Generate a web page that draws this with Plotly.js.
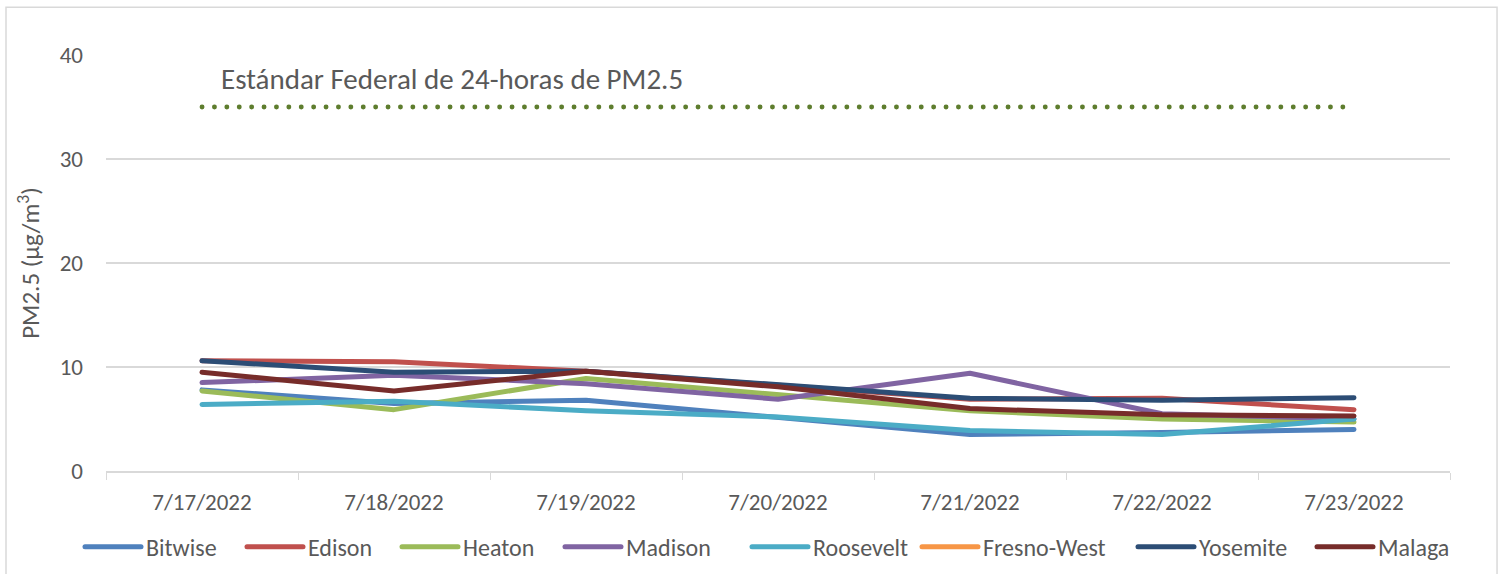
<!DOCTYPE html>
<html>
<head>
<meta charset="utf-8">
<script src="https://cdn.plot.ly/plotly-3.0.1.min.js"></script>
<style>
html,body{margin:0;padding:0;background:#fff;}
#chart{width:1509px;height:574px;}
#chart path.js-line{stroke-linecap:round;stroke-linejoin:round;}
</style>
</head>
<body>
<div id="chart"></div>
<script>
const dates = ["7/17/2022","7/18/2022","7/19/2022","7/20/2022","7/21/2022","7/22/2022","7/23/2022"];
const bitwise   = [7.8, 6.5, 6.8, 5.2, 3.5, 3.7, 4.0];
const edison    = [10.6, 10.5, 9.6, 8.2, 6.9, 7.0, 5.9];
const heaton    = [7.7, 5.9, 8.9, 7.3, 5.8, 5.0, 4.7];
const madison   = [8.5, 9.2, 8.4, 6.9, 9.4, 5.5, 5.0];
const roosevelt = [6.4, 6.7, 5.8, 5.2, 3.9, 3.5, 5.0];
const fresnoWest = [null, null, null, null, null, null, null];
const yosemite  = [10.6, 9.5, 9.6, 8.3, 7.0, 6.8, 7.05];
const malaga    = [9.5, 7.7, 9.6, 8.1, 6.0, 5.4, 5.3];
const standard  = [35, 35, 35, 35, 35, 35, 35];
const standardLabel = "Estándar Federal de 24-horas de PM2.5";

const seriesNames = ["Bitwise","Edison","Heaton","Madison","Roosevelt","Fresno-West","Yosemite","Malaga"];
const seriesData = [bitwise, edison, heaton, madison, roosevelt, fresnoWest, yosemite, malaga];
const colors = ["#4F81BD","#C0504D","#9BBB59","#8064A2","#4BACC6","#F79646","#2C4D75","#772C2A"];

// layout: left pixel of each legend entry (one legend per series, as in the reference)
const legendLeftPx = [85, 247, 402, 565, 752, 922, 1138, 1317];

const FONT = "Carlito, Lato, 'Open Sans', sans-serif";
const PLOT_L = 106, PLOT_W = 1344;

const traces = [{
  x: dates, y: standard, mode: "lines", showlegend: false, hoverinfo: "skip",
  line: {color: "#5E7D2E", width: 4.8, dash: "0.1px,12.3px"}
}];
seriesNames.forEach((n, i) => {
  traces.push({
    x: dates, y: seriesData[i], name: n, mode: "lines",
    legend: i === 0 ? "legend" : "legend" + (i + 1),
    line: {color: colors[i], width: 5},
    connectgaps: false
  });
});

const layout = {
  width: 1509, height: 574,
  margin: {l: 106, r: 59, t: 55, b: 103, autoexpand: false},
  paper_bgcolor: "#fff", plot_bgcolor: "#fff",
  font: {family: FONT, color: "#595959", size: 23},
  showlegend: true,
  xaxis: {
    type: "category", range: [-0.5, 6.5], tickson: "boundaries", ticks: "outside", ticklen: 7, tickcolor: "#D9D9D9",
    showline: true, linecolor: "#D9D9D9", linewidth: 1.5, showgrid: false, ticklabelstandoff: 10,
    tickfont: {family: FONT, size: 23, color: "#595959"}, automargin: false
  },
  yaxis: {
    range: [0, 40], dtick: 10, showgrid: true, gridcolor: "#D9D9D9", gridwidth: 1.5,
    zeroline: false, showline: false, ticks: "", ticklabelstandoff: 22,
    tickfont: {family: FONT, size: 23, color: "#595959"},
    title: {text: "PM2.5 (µg/m<sup>3</sup>)", font: {family: FONT, size: 25, color: "#595959"}, standoff: 12},
    automargin: false
  },
  annotations: [{
    xref: "paper", yref: "y", x: 0.0842, y: 37.7, xanchor: "left", yanchor: "middle",
    text: standardLabel, showarrow: false, font: {family: FONT, size: 29, color: "#595959"}
  }],
  shapes: [{
    type: "rect", xref: "paper", yref: "paper",
    x0: -0.0744, x1: 1.035, y0: -0.3, y1: 1.115,
    line: {color: "#D9D9D9", width: 1.5}, fillcolor: "rgba(0,0,0,0)", layer: "below"
  }]
};
legendLeftPx.forEach((px, i) => {
  const key = i === 0 ? "legend" : "legend" + (i + 1);
  layout[key] = {
    orientation: "h", x: (px - 5 - PLOT_L) / PLOT_W, xanchor: "left", y: -0.183, yanchor: "middle",
    font: {family: FONT, size: 24, color: "#595959"}, itemwidth: 56, bgcolor: "rgba(0,0,0,0)"
  };
});

Plotly.newPlot("chart", traces, layout, {displayModeBar: false, staticPlot: true});
</script>
</body>
</html>
